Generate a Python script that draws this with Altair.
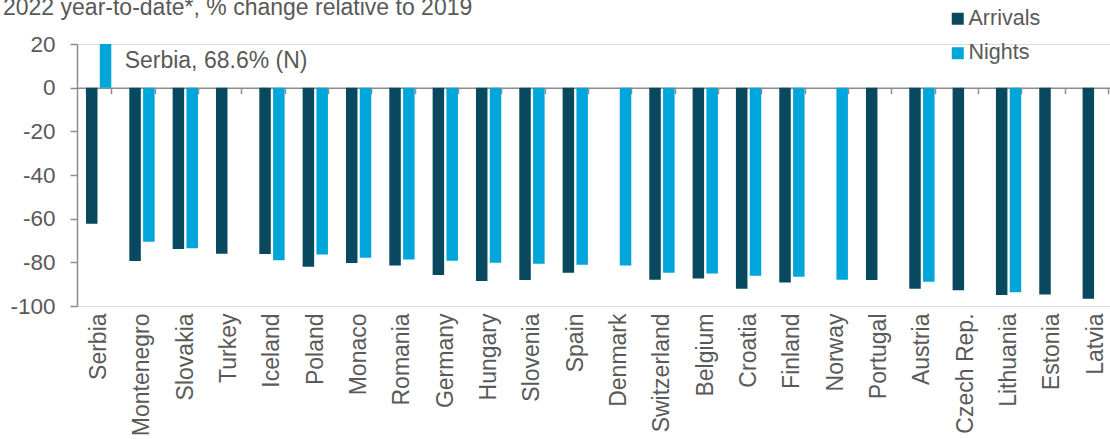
import altair as alt
import pandas as pd

countries = ["Serbia", "Montenegro", "Slovakia", "Turkey", "Iceland", "Poland", "Monaco",
             "Romania", "Germany", "Hungary", "Slovenia", "Spain", "Denmark", "Switzerland",
             "Belgium", "Croatia", "Finland", "Norway", "Portugal", "Austria", "Czech Rep.",
             "Lithuania", "Estonia", "Latvia"]
arrivals = [-62.3, -79.4, -73.9, -76.1, -76.2, -82.0, -80.3, -81.4, -85.8, -88.6, -88.1, -84.8,
            None, -88.0, -87.4, -92.1, -89.2, None, -88.1, -92.1, -92.8, -95.0, -94.7, -96.7]
nights = [68.6, -70.6, -73.6, None, -79.1, -76.4, -77.9, -78.7, -79.3, -80.2, -80.6, -81.1,
          -81.4, -84.8, -85.1, -86.1, -86.6, -88.0, None, -88.9, None, -93.7, None, None]
series_names = ["Arrivals", "Nights"]
series_colors = ["#08495f", "#00a6d9"]
y_ticks = [20, 0, -20, -40, -60, -80, -100]
title_text = "2022 year-to-date*, % change relative to 2019"
note_country = ["Serbia"]
note_value = [12.2]
note_text = ["Serbia, 68.6% (N)"]

FONT = "Liberation Sans"
GREY_TEXT = "#595959"
GREY_LINE = "#8c8c8c"

rows = []
for c, a, n in zip(countries, arrivals, nights):
    if a is not None:
        rows.append({"country": c, "series": "Arrivals", "value": a})
    if n is not None:
        rows.append({"country": c, "series": "Nights", "value": n})
df = pd.DataFrame(rows)
note_df = pd.DataFrame({"country": note_country, "value": note_value, "text": note_text})

x_scale = alt.Scale(domain=countries, paddingInner=0.416, paddingOuter=0.128, align=0.81)
y_scale = alt.Scale(domain=[-100, 20], nice=False)

x_axis = alt.Axis(title=None, orient="bottom", offset=-218.33, labelAngle=-90,
                  labelPadding=219.3, tickBand="extent", tickSize=6, tickColor=GREY_LINE,
                  tickWidth=1.5, domainColor=GREY_LINE, domainWidth=1.5, labelFontSize=23,
                  labelColor=GREY_TEXT, labelFont=FONT, labelOverlap=False, labelLimit=400)
y_axis = alt.Axis(title=None, values=y_ticks, grid=False, domainColor=GREY_LINE, domainWidth=1.5,
                  tickColor=GREY_LINE, tickWidth=1.5, tickSize=7, labelPadding=15,
                  labelFontSize=22.5, labelColor=GREY_TEXT, labelFont=FONT,
                  labelFlush=False, labelOverlap=False,
                  labelExpr="'' + datum.value")
legend = alt.Legend(title=None, orient="none", legendX=870, legendY=-36, symbolType="square",
                    symbolSize=144, symbolStrokeWidth=0, labelFontSize=21.5,
                    labelColor=GREY_TEXT, labelFont=FONT, rowPadding=11.5, labelOffset=0,
                    padding=0, direction="vertical")

bars = alt.Chart(df).mark_bar(clip=True).encode(
    x=alt.X("country:N", scale=x_scale, axis=x_axis, sort=countries),
    xOffset=alt.XOffset("series:N", scale=alt.Scale(domain=series_names, paddingInner=0.167,
                                                    paddingOuter=0)),
    y=alt.Y("value:Q", scale=y_scale, axis=y_axis),
    color=alt.Color("series:N", scale=alt.Scale(domain=series_names, range=series_colors),
                    legend=legend),
)

note = alt.Chart(note_df).mark_text(align="left", baseline="middle", dx=26, fontSize=23,
                                    font=FONT, color=GREY_TEXT).encode(
    x=alt.X("country:N", scale=x_scale, sort=countries),
    y=alt.Y("value:Q", scale=y_scale),
    text="text:N",
)

chart = alt.layer(bars, note).properties(
    width=1033,
    height=262,
    padding={"left": 77, "top": 44, "right": 0, "bottom": 133},
    autosize=alt.AutoSizeParams(type="none"),
    title=alt.TitleParams(title_text, anchor="start", fontSize=23, font=FONT, color=GREY_TEXT,
                          fontWeight="normal", dx=-74, dy=16, frame="group"),
).configure_view(stroke=None).configure(background="white")

chart.save("out.html", embed_options={"renderer": "svg", "actions": False})
